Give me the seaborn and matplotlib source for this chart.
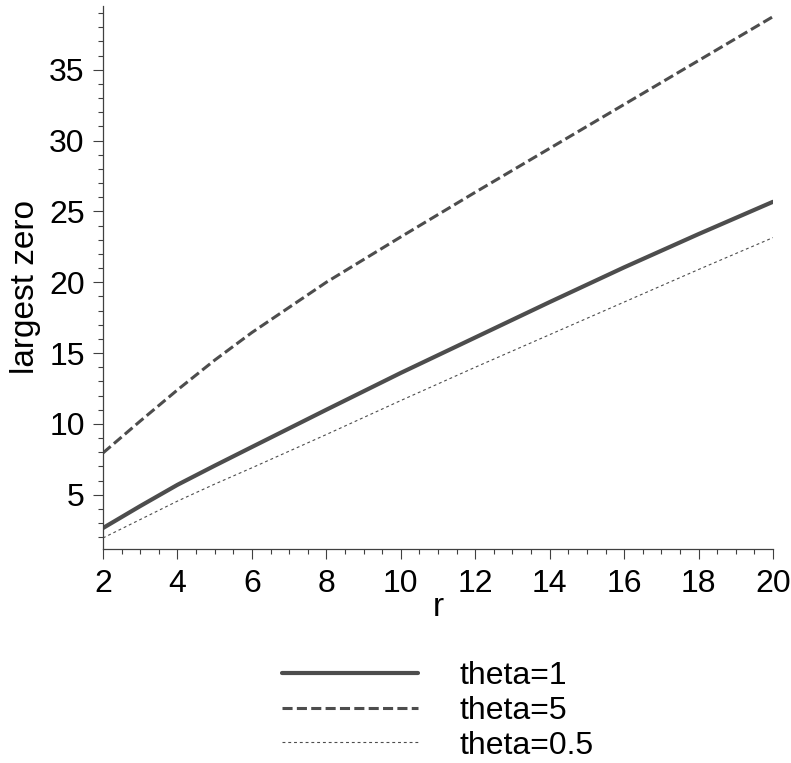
import matplotlib
matplotlib.use("Agg")
import matplotlib.pyplot as plt
from matplotlib.ticker import MultipleLocator
import seaborn as sns

# values
r = [2, 3, 4, 5, 6, 8, 10, 12, 14, 16, 18, 20]
theta_1 = [2.65, 4.2, 5.7, 7.05, 8.37, 11.0, 13.6, 16.1, 18.6, 21.05, 23.4, 25.68]
theta_5 = [7.95, 10.2, 12.4, 14.5, 16.45, 20.0, 23.2, 26.35, 29.45, 32.55, 35.65, 38.75]
theta_05 = [1.95, 3.25, 4.55, 5.75, 6.9, 9.25, 11.65, 14.0, 16.3, 18.6, 20.9, 23.15]
labels = ["theta=1", "theta=5", "theta=0.5"]

sns.set_style("white")
plt.rcParams["font.family"] = ["Liberation Sans Narrow", "Liberation Sans", "DejaVu Sans"]
plt.rcParams["text.color"] = "black"
plt.rcParams["axes.labelcolor"] = "black"
plt.rcParams["xtick.color"] = "black"
plt.rcParams["ytick.color"] = "black"

fig = plt.figure(figsize=(7.91, 7.63), dpi=100)
ax = fig.add_axes([103 / 791, 1 - 549 / 763, 670 / 791, 543 / 763])

col = "#4d4d4d"
sns.lineplot(x=r, y=theta_1, ax=ax, color=col, linewidth=3.0,
             solid_capstyle="round", label=labels[0])
sns.lineplot(x=r, y=theta_5, ax=ax, color=col, linewidth=2.2,
             linestyle=(0, (3.3, 1.4)), label=labels[1])
sns.lineplot(x=r, y=theta_05, ax=ax, color=col, linewidth=0.8,
             linestyle=(0, (2.6, 2.6)), label=labels[2])

ax.set_xlim(2, 20)
ax.set_ylim(1.17, 39.5)
ax.xaxis.set_major_locator(MultipleLocator(2))
ax.xaxis.set_minor_locator(MultipleLocator(0.5))
ax.yaxis.set_major_locator(MultipleLocator(5))
ax.yaxis.set_minor_locator(MultipleLocator(1))

for s in ["top", "right"]:
    ax.spines[s].set_visible(False)
for s in ["left", "bottom"]:
    ax.spines[s].set_color("#404040")
    ax.spines[s].set_linewidth(0.9)

ax.tick_params(which="major", direction="out", length=7.2, width=0.8,
               color="#404040", labelsize=23, labelcolor="black",
               left=True, bottom=True)
ax.tick_params(which="minor", direction="out", length=3.3, width=0.8,
               color="#404040", left=True, bottom=True)
ax.tick_params(axis="x", which="major", pad=7)
ax.tick_params(axis="y", which="major", pad=6)

ax.set_ylabel("largest zero", fontsize=24, family=["Liberation Sans", "DejaVu Sans"])
ax.yaxis.set_label_coords(-0.093, 0.4825)
ax.set_xlabel("r", fontsize=24)
ax.xaxis.set_label_coords(0.5, -0.08)

handles, labs = ax.get_legend_handles_labels()
if ax.get_legend() is not None:
    ax.get_legend().remove()
fig.legend(handles, labs, loc="upper left", bbox_to_anchor=(282 / 791, 1 - 661 / 763),
           frameon=False, fontsize=23, handlelength=4.26, handletextpad=1.31,
           labelspacing=0.15, borderpad=0, borderaxespad=0)

fig.savefig("out.png", dpi=100)
